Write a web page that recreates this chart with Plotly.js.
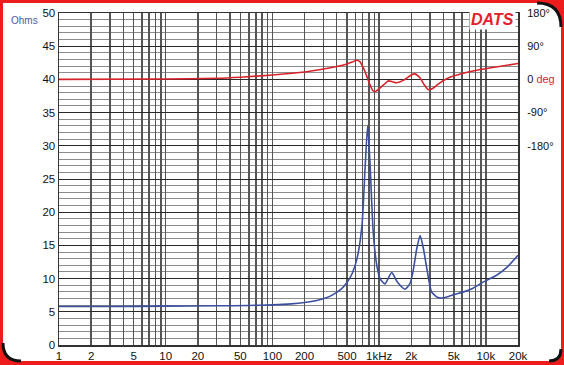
<!DOCTYPE html>
<html>
<head>
<meta charset="utf-8">
<script src="https://cdn.plot.ly/plotly-3.0.1.min.js"></script>
<style>
html,body{margin:0;padding:0;background:#fff;}
#chart{width:564px;height:365px;}
</style>
</head>
<body>
<div id="chart"></div>
<script>
// ---- data ----
const impFreq = [1, 3, 10, 30, 60, 100, 150, 200, 260, 320, 380, 440, 500, 560, 620, 690, 740, 780, 820, 880, 950, 1020, 1130, 1310, 1480, 1750, 1950, 2100, 2250, 2420, 2600, 2800, 3100, 3500, 4000, 5000, 6200, 7500, 9500, 12600, 16000, 20000];
const impOhms = [5.8, 5.8, 5.85, 5.9, 5.95, 6.05, 6.2, 6.4, 6.7, 7.1, 7.7, 8.4, 9.4, 10.8, 13.0, 18.0, 27, 33, 27.5, 17, 12, 10, 9.2, 10.9, 9.5, 8.4, 9.3, 11.5, 14.5, 16.5, 14.5, 11.5, 8.0, 7.2, 7.1, 7.6, 8.0, 8.5, 9.5, 10.5, 11.8, 13.5];

const phaseFreq = [1, 10, 30, 50, 100, 200, 300, 400, 500, 560, 617, 660, 700, 740, 780, 822, 870, 920, 1000, 1100, 1220, 1350, 1460, 1700, 2000, 2150, 2400, 2650, 2900, 3200, 3500, 4000, 4600, 6000, 8200, 12000, 20000];
const phaseDeg = [0, 1, 3, 6, 12, 20, 28, 35, 42, 47, 52, 48, 35, 20, 2, -15, -30, -33, -25, -15, -4, -7, -9, -2, 12, 15, 5, -15, -28, -24, -15, -3, 6, 16, 25, 33, 43];

const xLabelVals = [1, 2, 5, 10, 20, 50, 100, 200, 500, 1000, 2000, 5000, 10000, 20000];
const xLabelText = ['1', '2', '5', '10', '20', '50', '100', '200', '500', '1kHz', '2k', '5k', '10k', '20k'];
const yLabelVals = [0, 5, 10, 15, 20, 25, 30, 35, 40, 45, 50];
const y2LabelVals = [-180, -90, 0, 90, 180];
const y2LabelText = ['-180°', '-90°', '0 <span style="color:#d9232b">deg</span>', '90°', '180°'];

// ---- layout helpers ----
const W = 564, H = 365;
const M = {l: 59, r: 46, t: 13, b: 20};
const PW = W - M.l - M.r, PH = H - M.t - M.b;
const px = x => (x - M.l) / PW;
const py = y => (H - M.b - y) / PH;
function path(cmds) {
  return cmds.map(c => c[0] + ' ' + (c.length > 1 ? c.slice(1).reduce((a, v, i) => {
    a.push(i % 2 === 0 ? px(v).toFixed(5) : py(v).toFixed(5)); return a;
  }, []).join(',') : '')).join(' ');
}

// grid positions for the log axis: every 1..9 in each decade
const gridVals = [];
for (let d = 1; d <= 10000; d *= 10) for (let k = 1; k <= 9; k++) { const v = k * d; if (v <= 20000) gridVals.push(v); }
const gridText = gridVals.map(v => { const i = xLabelVals.indexOf(v); return i >= 0 ? xLabelText[i] : ''; });

const traces = [
  {x: phaseFreq, y: phaseDeg, yaxis: 'y2', type: 'scatter', mode: 'lines',
   line: {color: '#d9232b', width: 1.6, shape: 'spline', smoothing: 0.7}, hoverinfo: 'skip'},
  {x: impFreq, y: impOhms, type: 'scatter', mode: 'lines',
   line: {color: '#3a4f9f', width: 1.6, shape: 'spline', smoothing: 0.6}, hoverinfo: 'skip'}
];

const font = {family: '"Liberation Sans", Arial, sans-serif', size: 11.5, color: '#111'};

const layout = {
  width: W, height: H,
  margin: M,
  paper_bgcolor: '#ee1c1c',
  plot_bgcolor: '#ffffff',
  showlegend: false,
  font: font,
  xaxis: {
    type: 'log', range: [0, Math.log10(20000)],
    tickmode: 'array', tickvals: gridVals, ticktext: gridText,
    showgrid: true, gridcolor: '#555555', gridwidth: 1.5,
    showline: true, linecolor: '#333', linewidth: 1.5, mirror: true,
    ticks: '', zeroline: false, tickfont: font, fixedrange: true
  },
  yaxis: {
    range: [0, 50], tickmode: 'array', tickvals: yLabelVals,
    showgrid: true, gridcolor: '#2a2a2a', gridwidth: 1,
    minor: {dtick: 1, showgrid: true, gridcolor: '#8c8c8c', gridwidth: 1},
    showline: true, linecolor: '#333', linewidth: 1.5, mirror: true,
    ticks: '', zeroline: false, tickfont: font, fixedrange: true
  },
  yaxis2: {
    overlaying: 'y', side: 'right', range: [-720, 180],
    tickmode: 'array', tickvals: y2LabelVals, ticktext: y2LabelText,
    showgrid: false, zeroline: false, showline: false, ticks: 'outside', ticklen: 6, tickcolor: 'rgba(0,0,0,0)',
    tickfont: {family: font.family, size: 11, color: '#111'}, fixedrange: true
  },
  shapes: [
    {type: 'path', xref: 'paper', yref: 'paper', layer: 'below',
     path: path([['M', 3, 3], ['L', 539, 3], ['Q', 561, 3, 561, 25], ['L', 561, 351], ['Q', 561, 361, 551, 361], ['L', 19, 361], ['Q', 3, 361, 3, 345], ['Z']]),
     fillcolor: '#ffffff', line: {width: 0}},
    {type: 'path', xref: 'paper', yref: 'paper', layer: 'below',
     path: path([['M', 537, 3], ['Q', 561, 3, 561, 27]]), line: {color: '#111', width: 3}},
    {type: 'path', xref: 'paper', yref: 'paper', layer: 'below',
     path: path([['M', 561, 349], ['Q', 561, 361, 549, 361]]), line: {color: '#111', width: 3}},
    {type: 'path', xref: 'paper', yref: 'paper', layer: 'below',
     path: path([['M', 3, 343], ['Q', 3, 361, 21, 361]]), line: {color: '#111', width: 3}}
  ],
  annotations: [
    {xref: 'paper', yref: 'paper', x: px(24), y: py(21), text: 'Ohms', showarrow: false,
     font: {family: font.family, size: 10, color: '#4a5aa3'}, xanchor: 'center', yanchor: 'middle'},
    {xref: 'paper', yref: 'paper', x: px(516), y: py(19), text: '<b><i>DATS</i></b>', showarrow: false,
     font: {family: font.family, size: 16, color: '#e4202a'}, xanchor: 'right', yanchor: 'middle',
     bgcolor: '#ffffff', borderpad: 1}
  ]
};

Plotly.newPlot('chart', traces, layout, {displayModeBar: false, staticPlot: true});
</script>
</body>
</html>
